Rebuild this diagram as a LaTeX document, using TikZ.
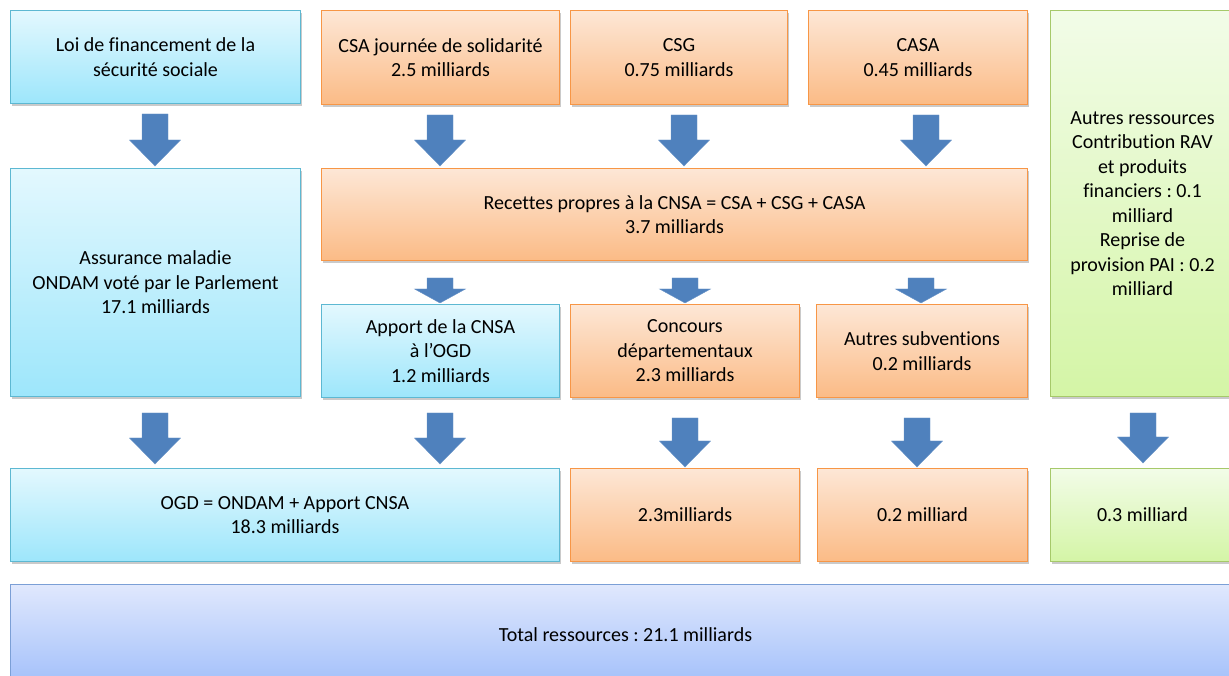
\documentclass[tikz,border=0pt]{standalone}
\usepackage{fontspec}
\setmainfont{Carlito}[Ligatures=NoCommon]
\frenchspacing
\usetikzlibrary{calc,shadows}
\definecolor{cyantop}{HTML}{E3F8FE}
\definecolor{cyanbot}{HTML}{9DE6FB}
\definecolor{cyanline}{HTML}{5DB8D2}
\definecolor{orangetop}{HTML}{FDE7D6}
\definecolor{orangebot}{HTML}{FBBB86}
\definecolor{orangeline}{HTML}{F79646}
\definecolor{greentop}{HTML}{F2FCE8}
\definecolor{greenbot}{HTML}{D4F5A6}
\definecolor{greenline}{HTML}{A6C96A}
\definecolor{lavtop}{HTML}{E0E8FD}
\definecolor{lavbot}{HTML}{A3C0FA}
\definecolor{lavline}{HTML}{7B9FD6}
\definecolor{arrowblue}{HTML}{4F81BD}

\tikzset{
  box/.style={anchor=north west, align=center, inner sep=2pt, line width=1pt,
    font=\fontsize{20}{24.5}\selectfont,
    drop shadow={shadow xshift=1.5pt, shadow yshift=-2.5pt, opacity=0.35, fill=black!60}},
  cbox/.style={box, draw=cyanline, top color=cyantop, bottom color=cyanbot},
  obox/.style={box, draw=orangeline, top color=orangetop, bottom color=orangebot},
  gbox/.style={box, draw=greenline, top color=greentop, bottom color=greenbot},
  tbox/.style={box, draw=lavline, top color=lavtop, bottom color=lavbot},
  blockarrow/.style={fill=arrowblue, draw=arrowblue!85!white, line width=0.4pt,
    to path={let \p1=(\tikztostart), \p2=(\tikztotarget) in
      (\x1-13pt,\y1) -- (\x1+13pt,\y1) -- (\x1+13pt,\y2+#1) -- (\x1+25.5pt,\y2+#1)
      -- (\x1,\y2) -- (\x1-25.5pt,\y2+#1) -- (\x1-13pt,\y2+#1) -- cycle}},
  blockarrow/.default=26pt
}

\begin{document}
\begin{tikzpicture}[x=1pt,y=1pt]
  \useasboundingbox (0,0) rectangle (1229,675);
  \clip (0,0) rectangle (1229,675);

  \node[cbox, minimum width=290, minimum height=93] (loi) at (10,665)
    {Loi de financement de la\\ sécurité sociale};
  \node[obox, minimum width=238, minimum height=94] (csa) at (321,665)
    {CSA journée de solidarité\\ 2.5 milliards};
  \node[obox, minimum width=217, minimum height=94] (csg) at (570,665)
    {CSG\\ 0.75 milliards};
  \node[obox, minimum width=219, minimum height=94] (casa) at (808,665)
    {CASA\\ 0.45 milliards};
  \node[gbox, minimum width=184, minimum height=386] (autres) at (1050,665)
    {Autres ressources\\ Contribution RAV\\ et produits\\ financiers : 0.1\\ milliard\\ Reprise de\\ provision PAI : 0.2\\ milliard};

  \node[cbox, minimum width=290, minimum height=228] (assurance) at (10,507)
    {Assurance maladie\\ ONDAM voté par le Parlement\\ 17.1 milliards};
  \node[obox, minimum width=706, minimum height=92] (recettes) at (321,507)
    {Recettes propres à la CNSA = CSA + CSG + CASA\\ 3.7 milliards};

  \node[cbox, minimum width=238, minimum height=93] (apport) at (321,371)
    {Apport de la CNSA\\ à l’OGD\\ 1.2 milliards};
  \node[obox, minimum width=229, minimum height=93] (concours) at (570,371)
    {Concours\\ départementaux\\ 2.3 milliards};
  \node[obox, minimum width=211, minimum height=93] (subventions) at (816,371)
    {Autres subventions\\ 0.2 milliards};

  \node[cbox, minimum width=549, minimum height=93] (ogd) at (10,207)
    {OGD = ONDAM + Apport CNSA\\ 18.3 milliards};
  \node[obox, minimum width=229, minimum height=93] (departements) at (570,207)
    {2.3milliards};
  \node[obox, minimum width=210, minimum height=93] (autressub) at (817,207)
    {0.2 milliard};
  \node[gbox, minimum width=184, minimum height=93] (autresres) at (1050,207)
    {0.3 milliard};

  \node[tbox, minimum width=1230, minimum height=100] (total) at (10,91)
    {Total ressources : 21.1 milliards};

  \foreach \s/\t/\x/\g/\e/\h in {loi/assurance/155/10/2/26, csa/recettes/440/10/2/26,
      csg/recettes/684/10/2/26, casa/recettes/926/10/2/26,
      recettes/apport/440/17/1/14, recettes/concours/685/17/1/14, recettes/subventions/921/17/1/14,
      assurance/ogd/155/16/4/26, apport/ogd/440/15/4/26, concours/departements/685/20/1/26,
      subventions/autressub/917/20/1/26, autres/autresres/1143/16/5/26}
    \path[blockarrow=\h] ($(\s.south -| \x,0)+(0,-\g)$) to ($(\t.north -| \x,0)+(0,\e)$);
\end{tikzpicture}
\end{document}
